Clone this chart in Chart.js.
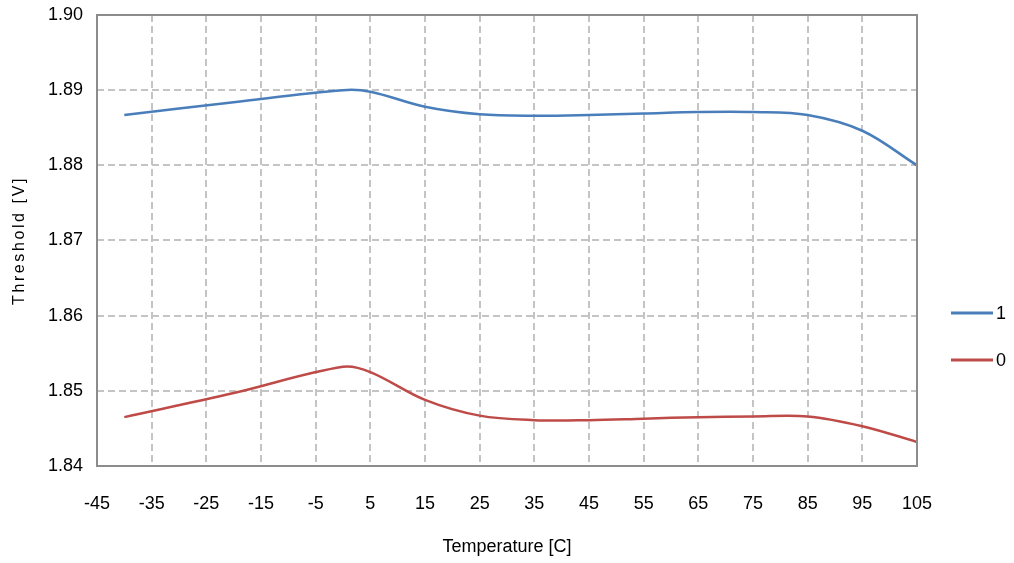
<!DOCTYPE html>
<html>
<head>
<meta charset="utf-8">
<script src="https://cdn.jsdelivr.net/npm/chart.js@4.4.0/dist/chart.umd.min.js"></script>
<style>
  html, body { margin: 0; padding: 0; background: #fff; }
  #wrap { width: 1014px; height: 563px; }
</style>
</head>
<body>
<div id="wrap"><canvas id="chart" width="1014" height="563"></canvas></div>
<script>
const temps = [-40, -20, 0, 5, 15, 25, 35, 45, 55, 65, 75, 85, 95, 105];
const series1 = [1.8867, 1.8884, 1.8900, 1.8898, 1.8878, 1.8868, 1.8866, 1.8867, 1.8869, 1.8871, 1.8871, 1.8867, 1.8846, 1.8800];
const series0 = [1.8465, 1.8497, 1.8532, 1.8525, 1.8488, 1.8467, 1.8461, 1.8461, 1.8463, 1.8465, 1.8466, 1.8466, 1.8453, 1.8432];
const xTicks = [-45, -35, -25, -15, -5, 5, 15, 25, 35, 45, 55, 65, 75, 85, 95, 105];
const labels = ['1', '0'];
const yTitle = 'Threshold [V]';

const FONT = "'Liberation Sans', Arial, sans-serif";

const toPoints = (ys) => temps.map((t, i) => ({ x: t, y: ys[i] }));

// legend at the right, drawn by hand like the Excel one
const sideLegend = {
    id: 'sideLegend',
    afterDraw(chart) {
        const { ctx, chartArea } = chart;
        const x0 = chartArea.right + 34;
        const ys = [313, 360];
        ctx.save();
        chart.data.datasets.forEach((ds, i) => {
            ctx.strokeStyle = ds.borderColor;
            ctx.lineWidth = 3;
            ctx.beginPath();
            ctx.moveTo(x0, ys[i]);
            ctx.lineTo(x0 + 42, ys[i]);
            ctx.stroke();
            ctx.fillStyle = '#000';
            ctx.font = '18px ' + FONT;
            ctx.textBaseline = 'middle';
            ctx.fillText(ds.label, x0 + 45, ys[i] + 1);
        });
        ctx.restore();
    },
};

// box around the plot area + spaced-out y title
const plotBorder = {
    id: 'plotBorder',
    afterDatasetsDraw(chart) {
        const { ctx, chartArea: a } = chart;
        ctx.save();
        ctx.strokeStyle = '#8c8c8c';
        ctx.lineWidth = 2;
        ctx.strokeRect(a.left, a.top, a.right - a.left, a.bottom - a.top);

        ctx.translate(20, (a.top + a.bottom) / 2);
        ctx.rotate(-Math.PI / 2);
        ctx.letterSpacing = '2.6px';
        ctx.font = '16px ' + FONT;
        ctx.fillStyle = '#000';
        ctx.textAlign = 'center';
        ctx.textBaseline = 'middle';
        ctx.fillText(yTitle, 0, 0);
        ctx.restore();
    },
};

new Chart(document.getElementById('chart'), {
    type: 'line',
    data: {
        datasets: [
            {
                label: labels[0],
                data: toPoints(series1),
                borderColor: '#4a7ebb',
                backgroundColor: '#4a7ebb',
                borderWidth: 2.5,
                pointRadius: 0,
                tension: 0.35,
            },
            {
                label: labels[1],
                data: toPoints(series0),
                borderColor: '#be4b48',
                backgroundColor: '#be4b48',
                borderWidth: 2.5,
                pointRadius: 0,
                tension: 0.35,
            },
        ],
    },
    options: {
        responsive: false,
        animation: false,
        layout: { padding: { top: 15, right: 97, left: 0, bottom: 0 } },
        plugins: {
            legend: { display: false },
            tooltip: { enabled: false },
        },
        scales: {
            x: {
                type: 'linear',
                min: -45,
                max: 105,
                afterBuildTicks: (scale) => {
                    scale.ticks = xTicks.map((v) => ({ value: v }));
                },
                afterFit: (scale) => { scale.height = 97; },
                grid: {
                    color: '#c4c4c4',
                    lineWidth: 2,
                    drawTicks: false,
                },
                border: { display: false, dash: [7, 4] },
                ticks: {
                    padding: 27,
                    color: '#000',
                    font: { family: FONT, size: 18 },
                },
                title: {
                    display: true,
                    text: 'Temperature [C]',
                    color: '#000',
                    font: { family: FONT, size: 18 },
                    padding: { bottom: 5 },
                },
            },
            y: {
                min: 1.84,
                max: 1.90,
                afterFit: (scale) => {
                    scale.width = 97;
                    scale.paddingTop = 0;
                    scale.paddingBottom = 0;
                },
                grid: {
                    color: '#c4c4c4',
                    lineWidth: 2,
                    drawTicks: false,
                },
                border: { display: false, dash: [7, 4] },
                ticks: {
                    stepSize: 0.01,
                    padding: 14,
                    color: '#000',
                    font: { family: FONT, size: 18 },
                    callback: (v) => v.toFixed(2),
                },
            },
        },
    },
    plugins: [plotBorder, sideLegend],
});
</script>
</body>
</html>
